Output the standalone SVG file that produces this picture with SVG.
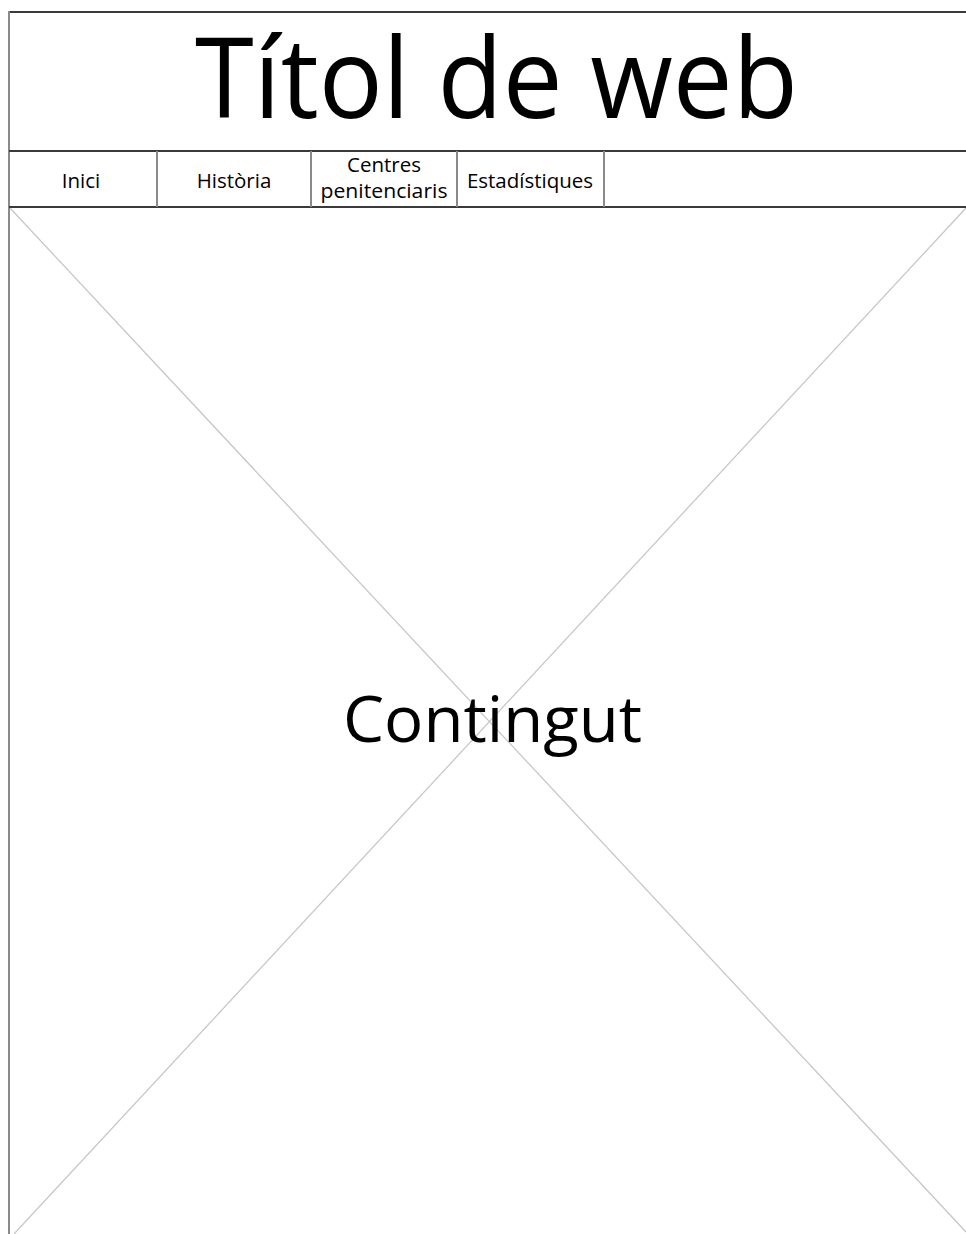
<svg xmlns="http://www.w3.org/2000/svg" width="966" height="1234" viewBox="0 0 966 1234">
<style>
.h{stroke:#3a3a3a;stroke-width:2;fill:none}
.v{stroke:#8a8a8a;stroke-width:2;fill:none}
.d{stroke:#c4c4c4;stroke-width:1.2;fill:none}
text{font-family:"Open Sans","Noto Sans",sans-serif;fill:#000;text-anchor:middle}
.nav{font-size:20.5px}
</style>
<rect width="966" height="1234" fill="#fff"/>
<g id="connectors">
<line class="d" x1="10" y1="208" x2="966" y2="1232"/>
<line class="d" x1="14" y1="1234" x2="966" y2="208"/>
</g>
<g id="frame">
<line class="h" x1="9" y1="12" x2="966" y2="12"/>
<line class="v" x1="9" y1="11" x2="9" y2="1234"/>
<line class="h" x1="9" y1="151" x2="966" y2="151"/>
<line class="h" x1="9" y1="207" x2="966" y2="207"/>
</g>
<g id="title"><text x="496.5" y="118" font-size="112" textLength="603" lengthAdjust="spacingAndGlyphs">Títol de web</text></g>
<g id="nav-inici"><text class="nav" x="81" y="188">Inici</text></g>
<g id="nav-historia"><line class="v" x1="157" y1="151" x2="157" y2="207"/><text class="nav" x="234" y="188">Història</text></g>
<g id="nav-centres"><line class="v" x1="311" y1="151" x2="311" y2="207"/><text class="nav" x="384" y="172">Centres</text><text class="nav" x="384" y="198" textLength="127" lengthAdjust="spacingAndGlyphs">penitenciaris</text></g>
<g id="nav-estadistiques"><line class="v" x1="457" y1="151" x2="457" y2="207"/><text class="nav" x="530" y="188">Estadístiques</text></g>
<g id="nav-empty"><line class="v" x1="604" y1="151" x2="604" y2="207"/></g>
<g id="content"><text x="492.5" y="742" font-size="64" textLength="299" lengthAdjust="spacingAndGlyphs">Contingut</text></g>
</svg>
